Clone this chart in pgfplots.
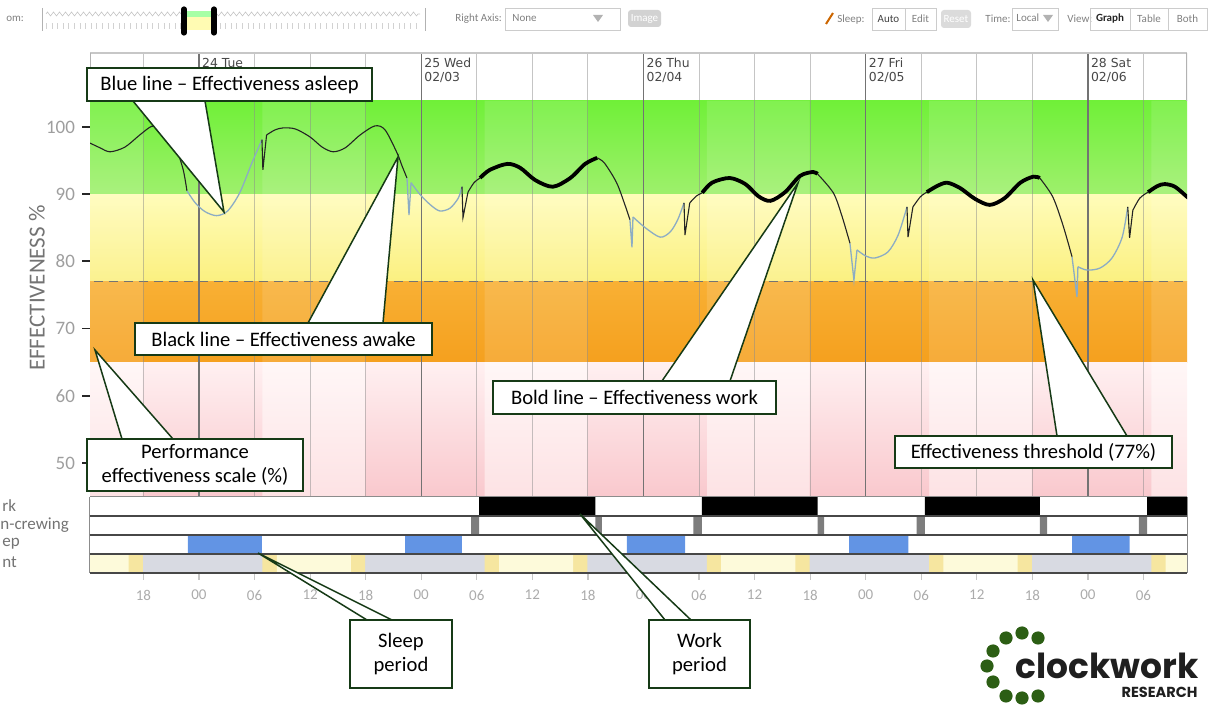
\documentclass[border=0pt]{standalone}
\usepackage{fontspec}
\usepackage{pgfplots}
\pgfplotsset{compat=1.18}
\usetikzlibrary{decorations.pathmorphing}
\setmainfont{Carlito}
\newfontfamily\dayfont{DejaVu Sans}
\newfontfamily\logofont{Poppins}

\definecolor{gTop}{RGB}{112,240,56}
\definecolor{gBot}{RGB}{158,240,108}
\definecolor{yTop}{RGB}{255,252,185}
\definecolor{yBot}{RGB}{251,240,128}
\definecolor{oTop}{RGB}{248,176,52}
\definecolor{oBot}{RGB}{245,160,30}
\definecolor{pTop}{RGB}{255,247,247}
\definecolor{pBot}{RGB}{253,226,228}
\definecolor{pnTop}{RGB}{255,240,241}
\definecolor{pnBot}{RGB}{249,200,205}
\definecolor{asleep}{RGB}{140,172,196}
\definecolor{awake}{RGB}{35,35,35}
\definecolor{nightrow}{RGB}{216,218,226}
\definecolor{dayrow}{RGB}{253,250,218}
\definecolor{twirow}{RGB}{246,230,160}
\definecolor{sleepblue}{RGB}{98,148,228}
\definecolor{crewgray}{RGB}{125,125,125}
\definecolor{cbord}{RGB}{22,58,22}
\definecolor{logogreen}{RGB}{44,94,20}

\begin{document}
\begin{tikzpicture}
\begin{scope}[x=0.5pt,y=-0.5pt]
\useasboundingbox (0,0) rectangle (1211,703);
% ---------------- toolbar ----------------
\begin{scope}[font=\fontsize{5.5}{6}\selectfont, text=black!50]
\node[anchor=west, inner sep=0] at (6,19) {om:};
\draw[gray!60, line width=0.5pt] (42,8) -- (42,31);
\draw[gray!60, line width=0.5pt] (425,8) -- (425,31);
\draw[gray!45, line width=0.3pt, decorate, decoration={zigzag, segment length=3pt, amplitude=1pt}] (46,14) -- (420,14);
\draw[gray!35, line width=3pt, dash pattern=on 0.3pt off 2.5pt] (46,26) -- (420,26);
\fill[yellow!30] (186,11) rectangle (212,30);
\fill[green!35] (186,11) rectangle (212,17);
\draw[black, line width=2.6pt, line cap=round] (184,9) -- (184,33);
\draw[black, line width=2.6pt, line cap=round] (214,9) -- (214,33);
\node[anchor=west, inner sep=0] at (455,19) {Right Axis:};
\draw[gray!40, line width=0.4pt] (505,8) rectangle (620,30);
\node[anchor=west, inner sep=0] at (512,18) {None};
\fill[gray!60] (593,15) -- (603,15) -- (598,22) -- cycle;
\fill[gray!35, rounded corners=1.5pt] (628,10) rectangle (661,27);
\node[text=white, inner sep=0] at (644.5,18.5) {Image};
\draw[orange!80!black, line width=1pt] (826,24) -- (833,13);
\node[anchor=west, inner sep=0] at (837,20) {Sleep:};
\draw[gray!40, line width=0.4pt] (872,8) rectangle (905,30);
\draw[gray!40, line width=0.4pt] (905,8) rectangle (936,30);
\node[text=black!75, inner sep=0] at (888.5,19) {Auto};
\node[inner sep=0] at (920.5,19) {Edit};
\fill[gray!28, rounded corners=1.5pt] (941,10) rectangle (971,28);
\node[text=white, inner sep=0] at (956,19) {Reset};
\node[anchor=west, inner sep=0] at (985,19) {Time:};
\draw[gray!40, line width=0.4pt] (1012,8) rectangle (1058,30);
\node[anchor=west, inner sep=0] at (1016,18) {Local};
\fill[gray!60] (1043,15) -- (1053,15) -- (1048,22) -- cycle;
\node[anchor=west, inner sep=0] at (1067,19) {View:};
\draw[gray!40, line width=0.4pt] (1090,8) rectangle (1130,30);
\draw[gray!40, line width=0.4pt] (1130,8) rectangle (1168,30);
\draw[gray!40, line width=0.4pt] (1168,8) rectangle (1207,30);
\node[text=black!85, inner sep=0] at (1110,19) {\bfseries Graph};
\node[inner sep=0] at (1149,19) {Table};
\node[inner sep=0] at (1187.5,19) {Both};
\end{scope}
\end{scope}

% ---------------- main effectiveness axis ----------------
\begin{axis}[
  at={(45pt,-248.5pt)}, anchor=south west, scale only axis,
  width=548.5pt, height=222pt,
  xmin=-11.77, xmax=106.7, ymin=44.94, ymax=111.0,
  axis x line=none, axis y line*=left, axis line style={draw=none},
  xtick=\empty, ytick={50,60,70,80,90,100},
  tick align=outside, major tick length=4pt,
  ytick style={draw=black!85, line width=0.9pt},
  yticklabel style={font=\fontsize{9.5}{10}\selectfont, text=black!38},
  /pgf/number format/assume math mode=true,
  unbounded coords=jump,
]
% bands
\addplot[draw=none, top color=gTop, bottom color=gBot] coordinates {(-13,90) (108,90) (108,103.9) (-13,103.9)};
\addplot[draw=none, top color=yTop, bottom color=yBot] coordinates {(-13,77) (108,77) (108,90) (-13,90)};
\addplot[draw=none, top color=oTop, bottom color=oBot] coordinates {(-13,65) (108,65) (108,77) (-13,77)};
\addplot[draw=none, top color=pTop, bottom color=pBot] coordinates {(-13,44.9) (108,44.9) (108,65) (-13,65)};
% night shading in the low band
\addplot[draw=none, top color=pnTop, bottom color=pnBot] coordinates {
 (-6.05,44.9) (6.85,44.9) (6.85,65) (-6.05,65) (0,nan)
 (17.95,44.9) (30.85,44.9) (30.85,65) (17.95,65) (0,nan)
 (41.95,44.9) (54.85,44.9) (54.85,65) (41.95,65) (0,nan)
 (65.95,44.9) (78.85,44.9) (78.85,65) (65.95,65) (0,nan)
 (89.95,44.9) (102.85,44.9) (102.85,65) (89.95,65)};
% daytime lightening of upper bands
\addplot[draw=none, fill=white, fill opacity=0.12] coordinates {
 (-13,65) (-6.05,65) (-6.05,103.9) (-13,103.9) (0,nan)
 (6.85,65) (17.95,65) (17.95,103.9) (6.85,103.9) (0,nan)
 (30.85,65) (41.95,65) (41.95,103.9) (30.85,103.9) (0,nan)
 (54.85,65) (65.95,65) (65.95,103.9) (54.85,103.9) (0,nan)
 (78.85,65) (89.95,65) (89.95,103.9) (78.85,103.9) (0,nan)
 (102.85,65) (108,65) (108,103.9) (102.85,103.9)};
% threshold
\addplot[black!55, line width=0.6pt, dash pattern=on 4.5pt off 3pt] coordinates {(-13,77) (108,77)};
% grid lines
\pgfplotsinvokeforeach{-6,6,12,18,30,36,42,54,60,66,78,84,90,102}{
  \draw[black!45, opacity=0.5, line width=0.5pt] (axis cs:#1,44.94) -- (axis cs:#1,111);
}
\pgfplotsinvokeforeach{0,24,48,72,96}{
  \draw[black!55, line width=0.6pt] (axis cs:#1,44.94) -- (axis cs:#1,111);
}
% header frame
\draw[black!22, line width=1pt] (axis cs:-11.77,111) -- (axis cs:106.7,111);
\draw[black!30, line width=1pt] (axis cs:-11.77,103.9) -- (axis cs:-11.77,111);
\draw[black!30, line width=1pt] (axis cs:106.7,103.9) -- (axis cs:106.7,111);
% day labels
\begin{scope}[every node/.style={anchor=north west, align=left, inner sep=0,
   font=\dayfont\fontsize{6.2}{7}\selectfont, text=black!72}]
\node at (axis cs:0.3,110.3) {24 Tue\\02/02};
\node at (axis cs:24.3,110.3) {25 Wed\\02/03};
\node at (axis cs:48.3,110.3) {26 Thu\\02/04};
\node at (axis cs:72.3,110.3) {27 Fri\\02/05};
\node at (axis cs:96.3,110.3) {28 Sat\\02/06};
\end{scope}

% --- effectiveness while asleep (blue)
\addplot[smooth, asleep, line width=0.65pt] coordinates {(-1.3,90.5) (-0.4,88.7) (0.65,87.4) (1.9,86.8) (3.1,87.5) (4.4,90.2) (5.7,94.6) (6.8,98.1)};
\addplot[asleep, line width=0.65pt] coordinates {(22.46,92.4) (22.68,86.9) (22.9,91.7)};
\addplot[smooth, asleep, line width=0.65pt] coordinates {(22.9,91.7) (23.9,89.9) (25.0,88.4) (26.0,87.5) (27.1,87.9) (28.0,89.4) (28.4,91.1)};
\addplot[asleep, line width=0.65pt] coordinates {(46.54,86.2) (46.76,82.1) (46.87,86.6)};
\addplot[smooth, asleep, line width=0.65pt] coordinates {(46.87,86.6) (48.2,85.0) (49.8,83.6) (50.9,84.4) (51.7,86.2) (52.38,88.7)};
\addplot[asleep, line width=0.65pt] coordinates {(70.3,82.7) (70.73,77.2) (71.06,81.7)};
\addplot[smooth, asleep, line width=0.65pt] coordinates {(71.06,81.7) (72.0,80.8) (73.0,80.5) (74.4,81.4) (75.5,83.9) (76.46,88.1)};
\addplot[asleep, line width=0.65pt] coordinates {(94.28,80.7) (94.82,74.7) (94.92,79.2)};
\addplot[smooth, asleep, line width=0.65pt] coordinates {(94.92,79.2) (95.9,78.7) (97.3,79.0) (98.6,80.5) (99.7,83.6) (100.3,88.1)};

% --- effectiveness while awake (thin black)
\addplot[smooth, awake, line width=0.55pt] coordinates {(-11.77,97.6) (-10.7,96.9) (-9.6,96.3) (-8.0,97.0) (-6.4,98.8) (-5.1,100.1) (-4.2,99.85) (-3.1,98.5) (-2.4,96.6) (-1.7,93.6) (-1.3,90.5)};
\addplot[awake, line width=0.55pt] coordinates {(6.8,98.1) (6.9,93.6) (7.3,98.8)};
\addplot[smooth, awake, line width=0.55pt] coordinates {(7.3,98.8) (8.2,99.55) (9.07,99.85) (10.4,99.7) (12.0,98.5) (13.3,97.0) (14.5,96.3) (15.8,96.9) (17.4,98.8) (19.0,100.15) (20.1,99.55) (21.4,96.1) (21.9,94.3) (22.46,92.4)};
\addplot[awake, line width=0.55pt] coordinates {(28.4,91.1) (28.51,86.5) (29.05,90.3)};
\addplot[smooth, awake, line width=0.55pt] coordinates {(29.05,90.3) (29.7,91.7) (30.35,92.4)};
\addplot[smooth, awake, line width=0.55pt] coordinates {(43.0,95.4) (43.8,94.6) (45.1,91.7) (46.0,88.4) (46.54,86.2)};
\addplot[awake, line width=0.55pt] coordinates {(52.38,88.7) (52.48,83.9) (53.0,88.7)};
\addplot[smooth, awake, line width=0.55pt] coordinates {(53.0,88.7) (53.7,89.7) (54.35,90.2)};
\addplot[smooth, awake, line width=0.55pt] coordinates {(66.8,93.0) (68.5,90.2) (69.4,86.9) (70.3,82.7)};
\addplot[awake, line width=0.55pt] coordinates {(76.46,88.1) (76.57,83.6) (77.1,88.1)};
\addplot[smooth, awake, line width=0.55pt] coordinates {(77.1,88.1) (77.9,89.6) (78.6,90.3)};
\addplot[smooth, awake, line width=0.55pt] coordinates {(90.8,92.4) (92.2,89.6) (93.3,85.4) (94.28,80.7)};
\addplot[awake, line width=0.55pt] coordinates {(100.3,88.1) (100.5,83.5) (100.85,87.6)};
\addplot[smooth, awake, line width=0.55pt] coordinates {(100.85,87.6) (101.6,89.4) (102.5,90.3)};

% --- effectiveness at work (bold)
\addplot[smooth, black, line width=1.9pt] coordinates {(30.35,92.4) (31.4,93.6) (33.3,94.5) (34.7,93.9) (36.3,92.1) (38.2,91.1) (40.1,92.4) (41.7,94.5) (43.0,95.4)};
\addplot[smooth, black, line width=1.9pt] coordinates {(54.35,90.2) (55.4,91.7) (57.3,92.4) (59.0,91.5) (60.4,89.7) (61.7,89.0) (63.3,90.3) (64.9,92.7) (66.3,93.3) (66.8,93.0)};
\addplot[smooth, black, line width=1.9pt] coordinates {(78.6,90.3) (79.7,91.2) (80.8,91.7) (82.2,90.9) (83.8,89.3) (85.4,88.4) (87.0,89.4) (88.7,91.7) (90.1,92.6) (90.8,92.4)};
\addplot[smooth, black, line width=1.9pt] coordinates {(102.5,90.3) (103.5,91.2) (104.3,91.5) (105.4,91.1) (106.7,89.6) (107,89.3)};
\end{axis}

% ---------------- schedule rows ----------------
\begin{axis}[
  at={(45pt,-286.5pt)}, anchor=south west, scale only axis,
  width=548.5pt, height=38pt,
  xmin=-11.77, xmax=106.7, ymin=0, ymax=4,
  axis x line*=bottom, axis y line=none, axis line style={draw=none},
  xtick={-6,0,...,102},
  xticklabels={18,00,06,12,18,00,06,12,18,00,06,12,18,00,06,12,18,00,06},
  tick align=outside, major tick length=3.5pt,
  xtick style={draw=black!22, line width=0.6pt},
  xticklabel style={font=\fontsize{7.5}{8}\selectfont, text=black!33, yshift=-1.5pt},
  unbounded coords=jump, clip=false,
]
% light row
\addplot[draw=none, fill=nightrow] coordinates {(-11.77,0) (106.7,0) (106.7,1) (-11.77,1)};
\addplot[draw=none, fill=twirow] coordinates {
 (-11.77,0) (-6.05,0) (-6.05,1) (-11.77,1) (0,nan)
 (6.85,0) (17.95,0) (17.95,1) (6.85,1) (0,nan)
 (30.85,0) (41.95,0) (41.95,1) (30.85,1) (0,nan)
 (54.85,0) (65.95,0) (65.95,1) (54.85,1) (0,nan)
 (78.85,0) (89.95,0) (89.95,1) (78.85,1) (0,nan)
 (102.85,0) (106.7,0) (106.7,1) (102.85,1)};
\addplot[draw=none, fill=dayrow] coordinates {
 (-11.77,0) (-7.6,0) (-7.6,1) (-11.77,1) (0,nan)
 (8.4,0) (16.4,0) (16.4,1) (8.4,1) (0,nan)
 (32.4,0) (40.4,0) (40.4,1) (32.4,1) (0,nan)
 (56.4,0) (64.4,0) (64.4,1) (56.4,1) (0,nan)
 (80.4,0) (88.4,0) (88.4,1) (80.4,1) (0,nan)
 (104.4,0) (106.7,0) (106.7,1) (104.4,1)};
% sleep row
\addplot[draw=none, fill=sleepblue] coordinates {
 (-1.19,1) (6.8,1) (6.8,2) (-1.19,2) (0,nan)
 (22.25,1) (28.4,1) (28.4,2) (22.25,2) (0,nan)
 (46.2,1) (52.5,1) (52.5,2) (46.2,2) (0,nan)
 (70.2,1) (76.6,1) (76.6,2) (70.2,2) (0,nan)
 (94.3,1) (100.5,1) (100.5,2) (94.3,2)};
% non-crewing row
\addplot[draw=none, fill=crewgray] coordinates {
 (29.4,2) (30.25,2) (30.25,3) (29.4,3) (0,nan)
 (42.8,2) (43.5,2) (43.5,3) (42.8,3) (0,nan)
 (53.4,2) (54.3,2) (54.3,3) (53.4,3) (0,nan)
 (66.8,2) (67.5,2) (67.5,3) (66.8,3) (0,nan)
 (77.5,2) (78.4,2) (78.4,3) (77.5,3) (0,nan)
 (90.8,2) (91.6,2) (91.6,3) (90.8,3) (0,nan)
 (101.5,2) (102.4,2) (102.4,3) (101.5,3)};
% work row
\addplot[draw=none, fill=black] coordinates {
 (30.25,3) (42.8,3) (42.8,4) (30.25,4) (0,nan)
 (54.3,3) (66.8,3) (66.8,4) (54.3,4) (0,nan)
 (78.4,3) (90.8,3) (90.8,4) (78.4,4) (0,nan)
 (102.4,3) (106.7,3) (106.7,4) (102.4,4)};
% row frame
\draw[black!45, line width=0.5pt] (axis cs:-11.77,4) -- (axis cs:106.7,4);
\draw[black!45, line width=0.5pt] (axis cs:-11.77,0) -- (axis cs:-11.77,4);
\draw[black!45, line width=0.5pt] (axis cs:106.7,0) -- (axis cs:106.7,4);
\pgfplotsinvokeforeach{0,1,2,3}{
  \draw[black!72, line width=1pt] (axis cs:-11.77,#1) -- (axis cs:106.7,#1);
}
\end{axis}

\begin{scope}[x=0.5pt,y=-0.5pt]
% row labels (cut at the left edge)
\begin{scope}[every node/.style={anchor=west, inner sep=0, font=\fontsize{8.5}{9}\selectfont, text=black!55}]
\node at (2,506) {rk};
\node at (0,525) {n-crewing};
\node at (2,544) {ep};
\node at (2,562) {nt};
\end{scope}

% y axis title
\node[rotate=90, font=\fontsize{11.5}{12}\selectfont, text=black!55, inner sep=0] at (37,288) {EFFECTIVENESS \%};

% ---------------- callouts ----------------
\tikzset{callout/.style={draw=cbord, fill=white, line width=0.75pt, line join=miter},
         ctext/.style={font=\fontsize{10.3}{12}\selectfont, text=black, align=center, inner sep=0}}
\filldraw[callout] (133,101) -- (205,101) -- (224,212) -- cycle;
\filldraw[callout] (87,68) rectangle (372,101);
\node[ctext] at (229.5,85) {Blue line – Effectiveness asleep};
\filldraw[callout] (308,323) -- (383,323) -- (398,157) -- cycle;
\filldraw[callout] (135,323) rectangle (432,355);
\node[ctext] at (283.5,339.5) {Black line – Effectiveness awake};
\filldraw[callout] (122,439) -- (173,439) -- (95,350) -- cycle;
\filldraw[callout] (87,439) rectangle (303,491);
\node[ctext] at (195,465) {Performance\\effectiveness scale (\%)};
\filldraw[callout] (662,381) -- (730,381) -- (798,183) -- cycle;
\filldraw[callout] (493,381) rectangle (776,414);
\node[ctext] at (634.5,397.5) {Bold line – Effectiveness work};
\filldraw[callout] (1057,436) -- (1127,436) -- (1033,280) -- cycle;
\filldraw[callout] (895,436) rectangle (1172,468);
\node[ctext] at (1033.5,452) {Effectiveness threshold (77\%)};
\filldraw[callout] (367,620) -- (392,620) -- (258,553) -- cycle;
\filldraw[callout] (350,620) rectangle (452,688);
\node[ctext] at (401,654) {Sleep\\period};
\filldraw[callout] (665,620) -- (691,620) -- (580,514) -- cycle;
\filldraw[callout] (649,620) rectangle (750,688);
\node[ctext] at (699.5,654) {Work\\period};

% ---------------- logo ----------------
\foreach \p in {(1006,638),(1022,633),(1038,638),(993,651),(987,666),(993,682),(1006,696),(1022,698),(1038,696)}
  \fill[logogreen] \p circle (6.6);
\node[anchor=base west, inner sep=0, text=black!88] at (1015,679) {\resizebox{91.5pt}{!}{\logofont\bfseries clockwork}};
\node[anchor=base east, inner sep=0, text=black!88] at (1198,698) {\resizebox{38pt}{!}{\logofont\bfseries RESEARCH}};
\end{scope}
\end{tikzpicture}
\end{document}
